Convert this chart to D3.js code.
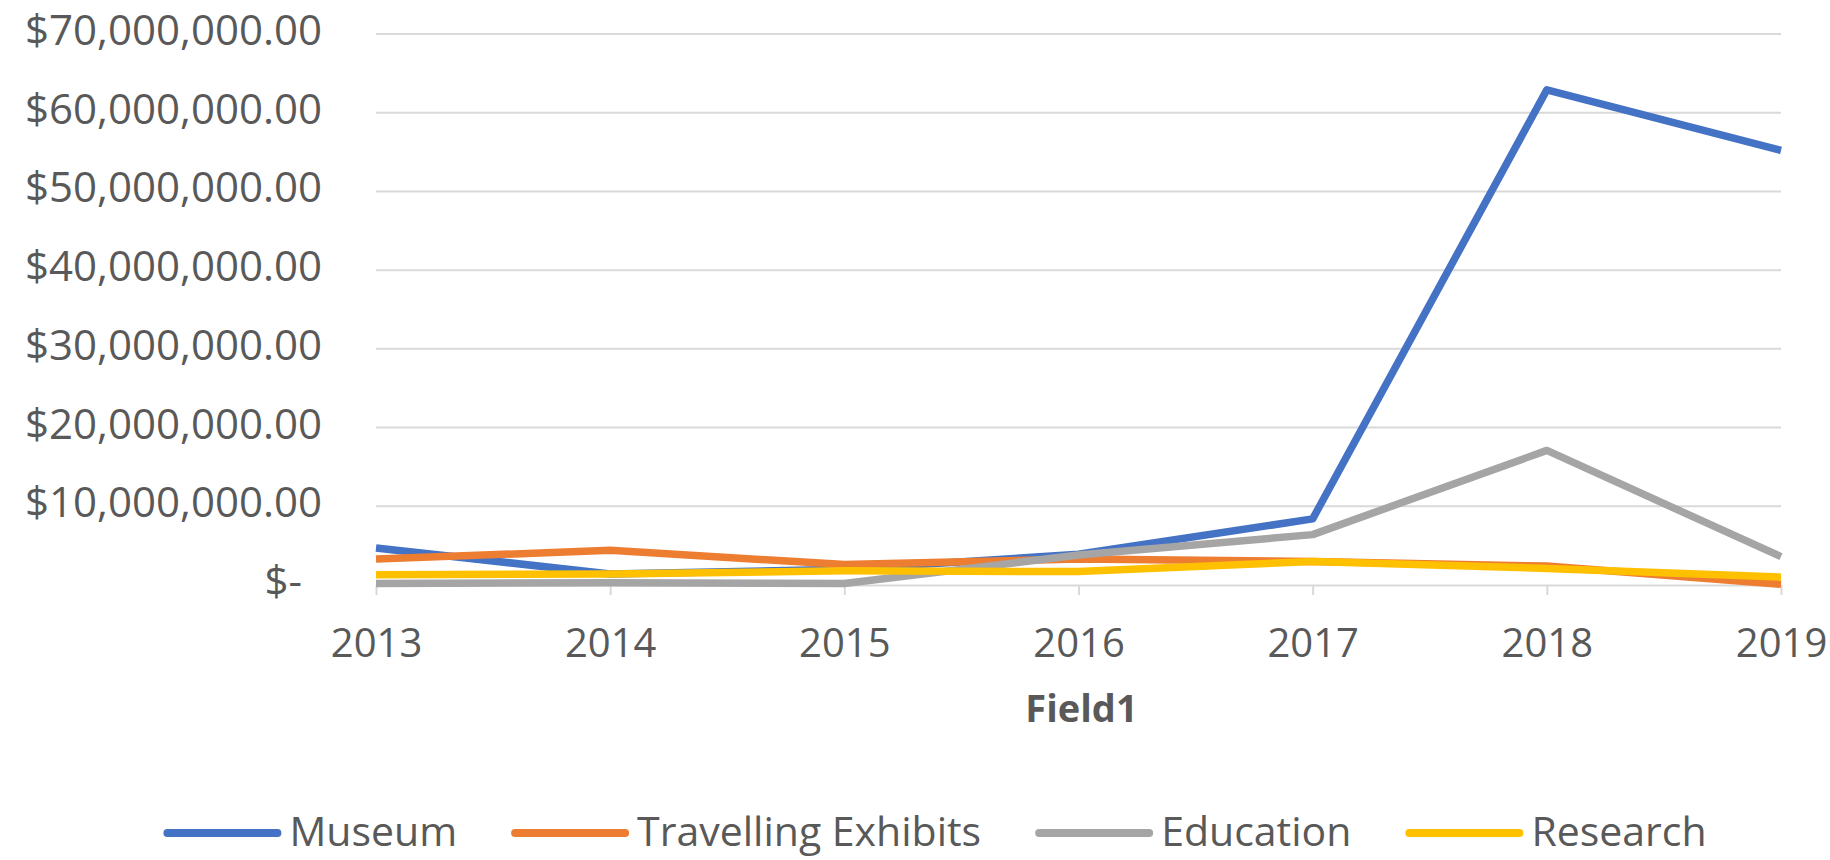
<!DOCTYPE html>
<html>
<head>
<meta charset="utf-8">
<script src="https://cdn.jsdelivr.net/npm/d3@7"></script>
<style>
  html, body { margin: 0; padding: 0; background: #ffffff; }
  svg { display: block; font-family: "Open Sans", Lato, sans-serif; }
</style>
</head>
<body>
<svg id="chart" width="1830" height="860"></svg>
<script>
// ---- data ----
const years = ["2013", "2014", "2015", "2016", "2017", "2018", "2019"];
const museum = [4700000, 1400000, 2000000, 3900000, 8400000, 62900000, 55200000];
const travellingExhibits = [3300000, 4400000, 2600000, 3300000, 3000000, 2400000, 100000];
const education = [200000, 300000, 200000, 3800000, 6400000, 17100000, 3600000];
const research = [1300000, 1400000, 1800000, 1700000, 3000000, 2100000, 1000000];
const seriesNames = ["Museum", "Travelling Exhibits", "Education", "Research"];
const seriesColors = ["#4472C4", "#ED7D31", "#A5A5A5", "#FFC000"];
const yTicks = [0, 10000000, 20000000, 30000000, 40000000, 50000000, 60000000, 70000000];
const xTitle = "Field1";

const seriesValues = [museum, travellingExhibits, education, research];

// ---- layout ----
const svg = d3.select("#chart");
const plotLeft = 376, plotRight = 1781, plotTop = 34, plotBottom = 585;
const textColor = "#595959";

const x = d3.scalePoint().domain(years).range([plotLeft, plotRight]);
const y = d3.scaleLinear().domain([0, 70000000]).range([plotBottom, plotTop]);

svg.append("rect").attr("width", 1830).attr("height", 860).attr("fill", "#ffffff");

// gridlines
svg.append("g").selectAll("line")
  .data(yTicks.filter(d => d > 0))
  .join("line")
  .attr("x1", plotLeft).attr("x2", plotRight)
  .attr("y1", d => y(d)).attr("y2", d => y(d))
  .attr("stroke", "#d9d9d9").attr("stroke-width", 2);

// y axis labels
const fmt = d3.format("$,.2f");
const yAxis = d3.axisLeft(y).tickValues(yTicks)
  .tickFormat(d => d === 0 ? "$-" : fmt(d))
  .tickSize(0).tickPadding(54);
const gy = svg.append("g").attr("transform", `translate(${plotLeft},0)`).call(yAxis);
gy.select(".domain").remove();
gy.selectAll("text")
  .attr("fill", textColor).attr("font-size", 42)
  .attr("font-family", "'Open Sans', sans-serif")
  .attr("dy", "0.25em")
  .attr("dx", d => d === 0 ? -20 : 0);

// x axis
const xAxis = d3.axisBottom(x).tickSizeInner(10).tickSizeOuter(0).tickPadding(0);
const gx = svg.append("g").attr("transform", `translate(0,${plotBottom})`).call(xAxis);
gx.select(".domain").attr("stroke", "#d9d9d9").attr("stroke-width", 2);
gx.selectAll(".tick line").attr("stroke", "#d9d9d9").attr("stroke-width", 2);
gx.selectAll("text")
  .attr("fill", textColor).attr("font-size", 40)
  .attr("font-family", "'Open Sans', sans-serif")
  .attr("y", 72).attr("dy", 0);

// x title
svg.append("text")
  .attr("x", (plotLeft + plotRight) / 2 + 3).attr("y", 722)
  .attr("text-anchor", "middle")
  .attr("font-size", 38).attr("font-weight", "bold")
  .attr("fill", textColor)
  .text(xTitle);

// lines
const line = d3.line().x((d, i) => x(years[i])).y(d => y(d));
svg.append("g").selectAll("path")
  .data(seriesValues)
  .join("path")
  .attr("d", d => line(d))
  .attr("fill", "none")
  .attr("stroke", (d, i) => seriesColors[i])
  .attr("stroke-width", 7.5)
  .attr("stroke-linejoin", "round")
  .attr("stroke-linecap", "butt");

// legend
const legend = svg.append("g");
const items = legend.selectAll("g").data(seriesNames).join("g");
items.append("line")
  .attr("x1", 0).attr("x2", 110).attr("y1", 0).attr("y2", 0)
  .attr("stroke", (d, i) => seriesColors[i])
  .attr("stroke-width", 8).attr("stroke-linecap", "round");
items.append("text")
  .attr("x", 122).attr("y", 13)
  .attr("font-size", 41).attr("fill", textColor)
  .text(d => d);
const widths = [];
items.each(function() { widths.push(this.getBBox().width); });
const gap = 58;
const total = d3.sum(widths) + gap * (widths.length - 1);
let cx = 937 - total / 2;
items.attr("transform", (d, i) => {
  const t = `translate(${cx},833)`;
  cx += widths[i] + gap;
  return t;
});
</script>
</body>
</html>
